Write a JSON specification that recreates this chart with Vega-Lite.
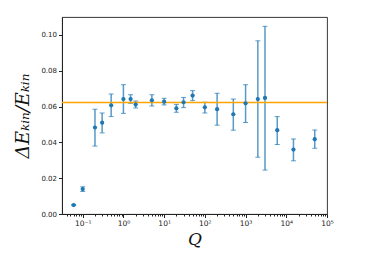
{
  "$schema": "https://vega.github.io/schema/vega-lite/v6.json",
  "autosize": "none",
  "padding": {"left": 62, "top": 17, "right": 47, "bottom": 39},
  "width": 265,
  "height": 197,
  "background": "white",
  "config": {
    "view": {"stroke": "#222", "strokeWidth": 0.9},
    "axis": {
      "domainColor": "#222", "tickColor": "#222", "labelColor": "#222",
      "labelFont": "DejaVu Sans", "labelFontSize": 7, "grid": false,
      "titleFont": "DejaVu Serif", "titleFontStyle": "italic", "titleFontWeight": "normal", "titleColor": "#111"
    },
    "axisY": {"labelOverlap": false, "labelFlush": false, "tickSize": 3.5, "labelPadding": 2}
  },
  "datasets": {
    "pts": [
      {"Q": 0.06, "v": 0.0050, "lo": 0.0047, "hi": 0.0053},
      {"Q": 0.1, "v": 0.0139, "lo": 0.0126, "hi": 0.0152},
      {"Q": 0.2, "v": 0.0483, "lo": 0.0379, "hi": 0.0585},
      {"Q": 0.3, "v": 0.0510, "lo": 0.0453, "hi": 0.0564},
      {"Q": 0.5, "v": 0.0607, "lo": 0.0544, "hi": 0.0670},
      {"Q": 1, "v": 0.0642, "lo": 0.0562, "hi": 0.0722},
      {"Q": 1.5, "v": 0.0642, "lo": 0.0618, "hi": 0.0666},
      {"Q": 2, "v": 0.0611, "lo": 0.0592, "hi": 0.0631},
      {"Q": 5, "v": 0.0635, "lo": 0.0603, "hi": 0.0666},
      {"Q": 10, "v": 0.0627, "lo": 0.0609, "hi": 0.0646},
      {"Q": 20, "v": 0.0590, "lo": 0.0568, "hi": 0.0612},
      {"Q": 30, "v": 0.0624, "lo": 0.0594, "hi": 0.0651},
      {"Q": 50, "v": 0.0661, "lo": 0.0633, "hi": 0.0689},
      {"Q": 100, "v": 0.0596, "lo": 0.0564, "hi": 0.0624},
      {"Q": 200, "v": 0.0585, "lo": 0.0496, "hi": 0.0674},
      {"Q": 500, "v": 0.0557, "lo": 0.0468, "hi": 0.0642},
      {"Q": 1000, "v": 0.0618, "lo": 0.0511, "hi": 0.0722},
      {"Q": 2000, "v": 0.0642, "lo": 0.0317, "hi": 0.0967},
      {"Q": 3000, "v": 0.0648, "lo": 0.0245, "hi": 0.1048},
      {"Q": 6000, "v": 0.0468, "lo": 0.0388, "hi": 0.0544},
      {"Q": 15000, "v": 0.0360, "lo": 0.0297, "hi": 0.0419},
      {"Q": 50000, "v": 0.0418, "lo": 0.0367, "hi": 0.0469}
    ],
    "ref": [{"level": 0.0622}]
  },
  "layer": [
    {
      "data": {"name": "pts"},
      "mark": {"type": "errorbar", "ticks": {"size": 5, "color": "#1f77b4", "opacity": 0.7}, "rule": {"color": "#1f77b4", "opacity": 0.75, "strokeWidth": 1.5}},
      "encoding": {
        "x": {
          "field": "Q", "type": "quantitative",
          "scale": {"type": "log", "domain": [0.031, 100000], "nice": false},
          "axis": {
            "title": "Q", "titleFontSize": 17, "titlePadding": 4, "labelFontSize": 7.5,
            "values": [0.04,0.05,0.06,0.07,0.08,0.09,0.1,0.2,0.3,0.4,0.5,0.6,0.7,0.8,0.9,1,2,3,4,5,6,7,8,9,10,20,30,40,50,60,70,80,90,100,200,300,400,500,600,700,800,900,1000,2000,3000,4000,5000,6000,7000,8000,9000,10000,20000,30000,40000,50000,60000,70000,80000,90000,100000],
            "labelExpr": "abs(log(datum.value)/LN10 - round(log(datum.value)/LN10)) < 0.001 ? ['10⁻¹','10⁰','10¹','10²','10³','10⁴','10⁵'][round(log(datum.value)/LN10)+1] : ''",
            "tickSize": {"condition": {"test": "abs(log(datum.value)/LN10 - round(log(datum.value)/LN10)) < 0.001", "value": 3.5}, "value": 2},
            "labelPadding": 2, "labelFlush": false, "labelOverlap": false
          }
        },
        "y": {
          "field": "lo", "type": "quantitative",
          "scale": {"domain": [0, 0.11], "nice": false},
          "axis": {
            "title": "ΔEₖᵢₙ/Eₖᵢₙ", "titleFontSize": 19, "titlePadding": 8,
            "values": [0, 0.02, 0.04, 0.06, 0.08, 0.1], "format": ".2f"
          }
        },
        "y2": {"field": "hi"}
      }
    },
    {
      "data": {"name": "ref"},
      "mark": {"type": "rule", "color": "#ffa500", "strokeWidth": 1.5},
      "encoding": {"y": {"field": "level", "type": "quantitative", "axis": {"title": "ΔEₖᵢₙ/Eₖᵢₙ", "titleFontSize": 19, "titlePadding": 8, "values": [0, 0.02, 0.04, 0.06, 0.08, 0.1], "format": ".2f"}}}
    },
    {
      "data": {"name": "pts"},
      "mark": {"type": "point", "filled": true, "shape": "circle", "size": 18, "color": "#1f77b4", "opacity": 1},
      "encoding": {
        "x": {"field": "Q", "type": "quantitative"},
        "y": {"field": "v", "type": "quantitative", "axis": {"title": "ΔEₖᵢₙ/Eₖᵢₙ", "titleFontSize": 19, "titlePadding": 8, "values": [0, 0.02, 0.04, 0.06, 0.08, 0.1], "format": ".2f"}}
      }
    }
  ]
}
